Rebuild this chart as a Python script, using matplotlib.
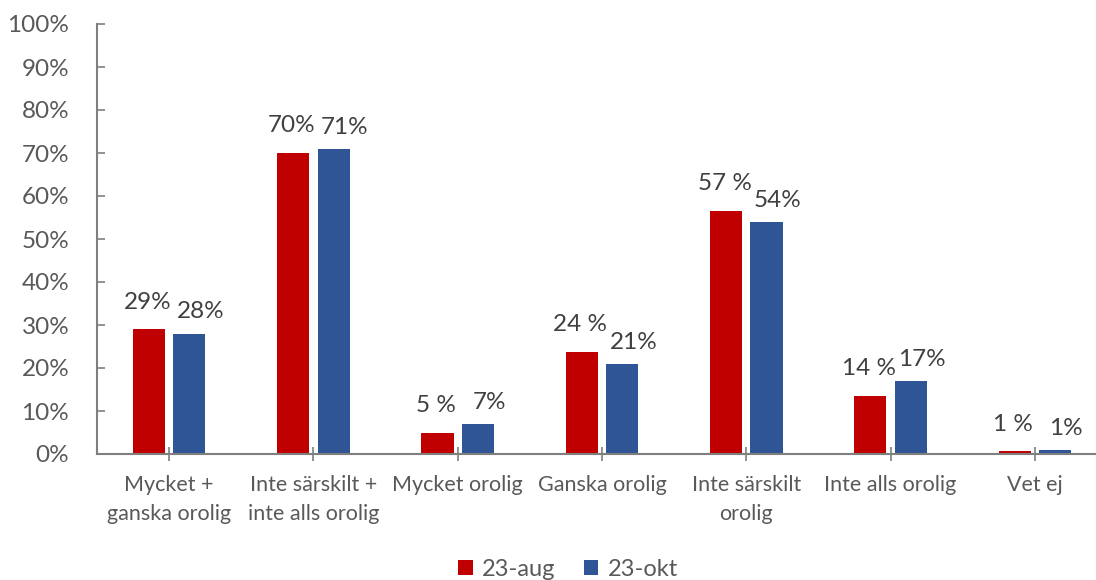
import matplotlib
matplotlib.use("Agg")
import matplotlib.pyplot as plt
import numpy as np

categories = ["Mycket +\nganska orolig", "Inte särskilt +\ninte alls orolig", "Mycket orolig",
              "Ganska orolig", "Inte särskilt\norolig", "Inte alls orolig", "Vet ej"]
series_names = ["23-aug", "23-okt"]
aug_values = [29.0, 70.0, 5.0, 23.8, 56.5, 13.6, 0.6]
okt_values = [28.0, 71.0, 7.0, 21.0, 54.0, 17.0, 0.9]
aug_labels = ["29%", "70%", "5 %", "24 %", "57 %", "14 %", "1 %"]
okt_labels = ["28%", "71%", "7%", "21%", "54%", "17%", "1%"]
yticks = [0, 10, 20, 30, 40, 50, 60, 70, 80, 90, 100]
ytick_labels = [f"{v}%" for v in yticks]

RED = "#C00000"
BLUE = "#2F5597"
AXIS = "#7F7F7F"
TICK_TXT = "#595959"
LBL_TXT = "#404040"

plt.rcParams['font.family'] = ['Lato', 'DejaVu Sans']

fig = plt.figure(figsize=(10.96, 5.80), dpi=100)
ax = fig.add_axes([97/1096, 126/580, 1010/1096, 430/580])

x = np.arange(len(categories))
w = 0.222
off = 0.14
b1 = ax.bar(x - off, aug_values, w, color=RED, label=series_names[0], zorder=2)
b2 = ax.bar(x + off, okt_values, w, color=BLUE, label=series_names[1], zorder=2)

for rect, lab in zip(b1, aug_labels):
    ax.annotate(lab, (rect.get_x() + rect.get_width()/2, rect.get_height()),
                xytext=(-1, 12), textcoords="offset points", ha="center", va="bottom",
                fontsize=17.5, color=LBL_TXT)
for rect, lab in zip(b2, okt_labels):
    ax.annotate(lab, (rect.get_x() + rect.get_width()/2, rect.get_height()),
                xytext=(8, 8), textcoords="offset points", ha="center", va="bottom",
                fontsize=17.5, color=LBL_TXT)

ax.set_xlim(-0.5, len(categories) - 0.5)
ax.set_ylim(0, 100)
ax.set_yticks(yticks)
ax.set_yticklabels(ytick_labels)
ax.set_xticks(x)
ax.set_xticklabels(categories, linespacing=1.6)

for s in ["top", "right"]:
    ax.spines[s].set_visible(False)
for s in ["left", "bottom"]:
    ax.spines[s].set_color(AXIS)
    ax.spines[s].set_linewidth(1.5)

ax.tick_params(axis="y", direction="in", length=6, width=1.2, color=AXIS,
               labelsize=17.5, labelcolor=TICK_TXT, pad=20)
ax.tick_params(axis="x", direction="inout", length=10, width=1.2, color=AXIS,
               labelsize=15.5, labelcolor=TICK_TXT, pad=10)
for t in ax.get_xticklabels():
    t.set_va("top")

leg = fig.legend(handles=[b1, b2], labels=series_names, loc="center",
                 bbox_to_anchor=(568/1096, 1 - 569/580), ncol=2, frameon=False,
                 fontsize=17, handlelength=0.6, handleheight=0.6, handletextpad=0.4,
                 columnspacing=1.2, labelcolor=TICK_TXT)

fig.savefig("out.png", dpi=100)
